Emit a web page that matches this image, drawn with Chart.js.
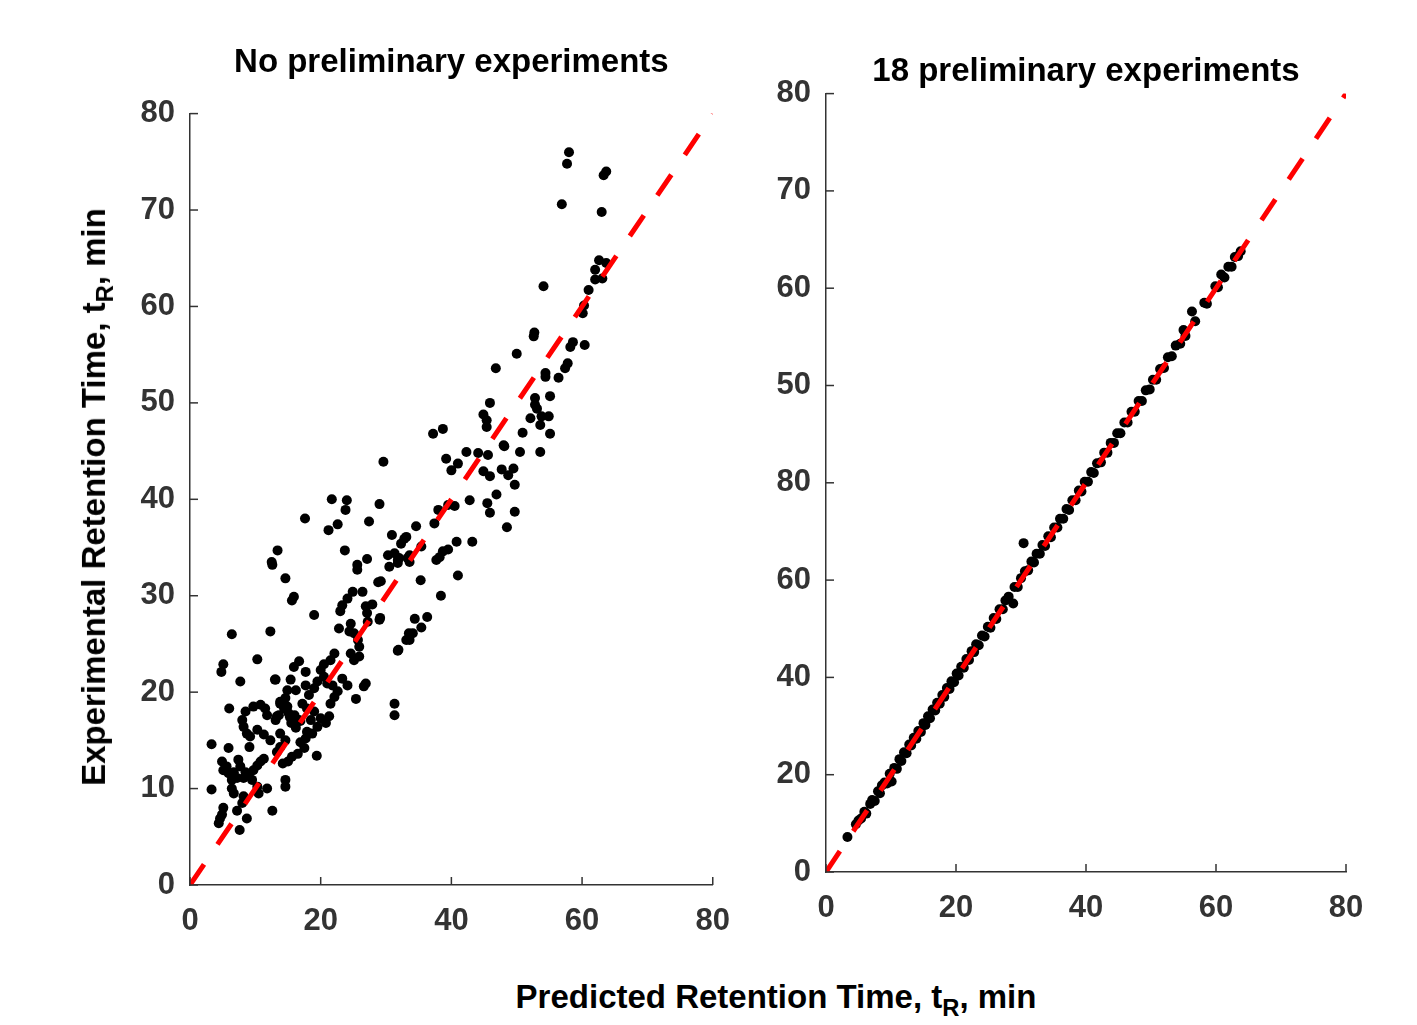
<!DOCTYPE html>
<html>
<head>
<meta charset="utf-8">
<script src="https://cdn.jsdelivr.net/npm/chart.js@4.4.1/dist/chart.umd.min.js"></script>
<style>
  body { margin: 0; background: #fff; width: 1417px; height: 1025px; position: relative; overflow: hidden;
         font-family: "Liberation Sans", Arial, sans-serif; }
  .panel { position: absolute; top: 0; height: 960px; }
  #leftBox { left: 0; width: 740px; }
  #rightBox { left: 760px; width: 657px; }
  .axisTitle { position: absolute; white-space: nowrap; font-weight: bold; font-size: 33px; color: #000; line-height: 1; }
  .axisTitle sub { font-size: 0.72em; vertical-align: -0.35em; }
  #yTitle { left: 97px; top: 497px; transform: translate(-50%, -50%) rotate(-90deg); }
  #xTitle { left: 776px; top: 1000px; transform: translate(-50%, -50%); }
</style>
</head>
<body>
<div class="panel" id="leftBox"><canvas id="leftChart"></canvas></div>
<div class="panel" id="rightBox"><canvas id="rightChart"></canvas></div>
<div class="axisTitle" id="yTitle">Experimental Retention Time, t<sub>R</sub>, min</div>
<div class="axisTitle" id="xTitle">Predicted Retention Time, t<sub>R</sub>, min</div>
<script>
// panel titles
const leftTitle = 'No preliminary experiments';
const rightTitle = '18 preliminary experiments';

// tick labels (right panel y labels are printed as in the original figure)
const xTickLabels = ['0', '20', '40', '60', '80'];
const leftYTickLabels = ['0', '10', '20', '30', '40', '50', '60', '70', '80'];
const rightYTickLabels = ['0', '20', '40', '60', '80', '50', '60', '70', '80'];

// ideal line (predicted = experimental)
const idealLine = [[0, 0], [80, 80]];

const leftPoints = [
  [3.3,14.6],[3.3,9.9],[4.4,6.4],[4.6,6.9],[4.9,7.3],[5.1,8.0],[7.6,5.7],[8.7,6.9],[7.2,7.7],[8.0,8.5],
  [8.2,9.2],[6.4,10.0],[6.7,9.5],[9.5,10.9],[10.3,10.2],[10.5,9.5],[11.8,10.0],[14.6,10.9],[14.6,10.2],[12.6,7.7],
  [4.9,12.8],[5.1,11.9],[5.6,12.3],[7.4,13.0],[7.7,12.3],[6.7,11.7],[5.9,11.6],[8.5,11.7],[9.0,11.4],[9.7,11.9],
  [10.3,12.4],[10.8,12.8],[11.3,13.1],[7.2,11.1],[8.2,11.1],[6.4,10.9],[5.9,14.2],[9.1,14.3],[6.0,18.3],[8.5,18.0],
  [9.7,18.5],[10.8,18.7],[11.5,18.3],[11.8,17.6],[8.0,17.1],[8.2,16.4],[8.7,15.7],[9.2,15.4],[13.8,18.8],[14.9,18.5],
  [13.6,17.6],[13.1,17.1],[10.3,16.1],[11.3,15.6],[12.3,15.0],[13.8,15.7],[14.6,15.0],[13.8,14.3],[13.3,13.8],[17.9,15.9],
  [17.7,15.2],[18.7,15.7],[19.5,16.4],[19.4,13.4],[16.9,14.8],[17.5,14.2],[16.5,13.6],[15.6,13.3],[15.0,12.8],[14.2,12.6],
  [15.5,16.8],[16.2,16.3],[16.9,17.0],[15.3,17.4],[16.0,17.6],[16.7,17.1],[13.3,17.5],[15.1,17.8],[17.7,20.7],[18.2,19.7],
  [17.2,18.8],[17.9,18.3],[19.0,18.0],[18.5,17.1],[20.0,17.3],[21.3,17.5],[20.8,16.8],[15.4,21.3],[14.9,20.2],[16.2,20.2],
  [14.6,19.4],[13.8,19.0],[14.4,18.3],[13.1,21.3],[20.0,22.3],[20.5,21.6],[19.5,21.1],[19.0,20.4],[21.0,20.9],[21.8,20.7],
  [23.3,21.4],[24.1,20.7],[22.6,20.1],[22.1,19.5],[21.5,18.8],[26.9,20.9],[26.6,20.6],[25.4,19.3],[31.3,18.8],[31.3,17.6],
  [16.7,23.2],[15.9,22.6],[17.7,22.1],[22.1,24.0],[21.5,23.3],[20.5,22.9],[24.6,24.0],[25.1,23.3],[25.9,23.7],[22.8,26.6],
  [24.6,27.1],[25.1,26.1],[25.7,25.4],[25.9,24.7],[27.2,27.3],[29.0,27.5],[33.1,25.4],[31.8,24.3],[12.3,26.3],[6.4,26.0],
  [5.1,22.9],[4.8,22.1],[10.3,23.4],[7.7,21.1],[13.0,21.3],[21.7,40.0],[24.0,39.9],[23.8,38.9],[29.0,39.5],[17.6,38.0],
  [22.6,37.4],[21.2,36.8],[27.4,37.7],[30.9,36.3],[32.8,35.9],[32.3,35.4],[13.4,34.7],[12.5,33.5],[12.6,33.2],[23.7,34.7],
  [30.3,34.2],[31.3,34.4],[31.8,33.7],[30.5,33.0],[33.3,33.9],[27.1,33.8],[25.6,33.2],[25.6,32.7],[14.6,31.8],[15.9,29.9],
  [15.6,29.5],[28.8,31.4],[24.9,30.4],[26.4,30.4],[24.1,29.7],[23.3,29.0],[23.0,28.4],[26.9,28.9],[27.9,29.1],[27.1,28.2],
  [29.1,27.7],[19.0,28.0],[24.4,26.3],[33.5,26.1],[45.9,50.0],[44.9,48.8],[45.4,48.2],[45.4,47.5],[52.8,49.8],[53.1,49.4],
  [52.1,48.4],[53.8,48.6],[54.9,48.6],[53.6,47.7],[50.9,46.9],[55.1,46.8],[37.2,46.8],[38.7,47.3],[48.1,45.5],[50.5,44.9],
  [53.6,44.9],[42.3,44.9],[44.1,44.8],[45.6,44.6],[39.2,44.2],[41.0,43.7],[40.0,43.0],[44.9,42.9],[45.9,42.4],[47.7,43.1],
  [48.7,42.5],[49.5,43.2],[49.7,41.5],[46.9,40.5],[45.5,39.6],[45.9,38.6],[42.8,39.9],[49.7,38.7],[48.5,37.1],[29.6,43.9],
  [38.0,38.9],[39.5,39.4],[40.5,39.3],[37.4,37.5],[34.6,37.2],[35.4,35.1],[40.8,35.6],[43.2,35.6],[38.7,34.6],[38.2,34.0],
  [37.7,33.7],[39.5,34.8],[35.3,31.6],[41.0,32.1],[38.4,30.0],[29.2,31.5],[34.4,27.6],[36.3,27.8],[35.4,26.7],[34.1,26.1],
  [33.6,25.4],[31.9,24.4],[33.1,36.1],[32.0,33.9],[33.6,34.2],[31.8,33.4],[33.6,33.5],[58.0,76.0],[57.7,74.8],[63.7,74.0],
  [63.3,73.6],[56.9,70.6],[63.0,69.8],[62.6,64.8],[63.7,64.5],[62.0,63.8],[63.1,62.9],[62.0,62.8],[61.0,61.7],[54.1,62.1],
  [60.3,60.1],[60.1,59.3],[52.7,57.3],[52.6,56.9],[58.6,56.3],[58.2,55.8],[60.4,56.0],[50.0,55.1],[46.8,53.6],[57.8,54.1],
  [57.4,53.6],[54.4,53.1],[54.4,52.7],[56.4,52.6],[52.8,50.5],[55.1,50.7],[48.0,45.6]
];

const rightPoints = [
  [3.3,3.6],[4.6,4.9],[5.0,5.3],[5.4,5.5],[5.9,6.2],[6.2,6.0],[6.8,7.0],[7.1,7.4],[7.5,7.3],[8.0,8.3],
  [8.3,8.1],[8.6,8.9],[9.0,9.2],[9.4,9.1],[9.8,10.1],[10.1,9.3],[10.5,10.7],[10.9,10.6],[11.3,11.6],[11.6,11.4],
  [12.0,12.3],[12.4,12.2],[12.8,13.1],[13.1,13.0],[13.5,13.8],[13.9,13.7],[14.2,14.5],[14.6,14.4],[15.0,15.3],[15.3,15.1],
  [15.7,16.0],[16.0,15.8],[16.4,16.7],[16.8,16.6],[17.1,17.4],[17.5,17.3],[17.9,18.2],[18.2,18.0],[18.6,18.9],[19.0,18.8],
  [19.3,19.6],[19.7,19.5],[20.1,20.4],[20.4,20.2],[20.8,21.1],[21.2,21.0],[21.6,21.9],[22.0,21.8],[22.4,22.7],[22.8,22.6],
  [23.1,23.4],[23.5,23.3],[24.0,24.3],[24.4,24.2],[24.9,25.2],[25.3,25.1],[25.8,26.1],[26.2,26.0],[26.7,27.0],[27.2,27.0],
  [27.6,27.9],[28.1,28.3],[28.8,27.6],[29.0,29.3],[29.5,29.3],[30.0,30.2],[30.4,33.8],[30.6,30.9],[31.1,31.0],[31.6,31.9],
  [32.0,31.8],[32.4,32.7],[32.9,32.7],[33.3,33.6],[33.7,33.5],[34.2,34.5],[34.6,34.4],[35.1,35.4],[35.6,35.4],[36.0,36.3],
  [36.5,36.3],[37.0,37.3],[37.4,37.2],[37.9,38.2],[38.4,38.2],[38.9,39.2],[39.3,39.1],[39.8,40.1],[40.3,40.1],[40.8,41.1],
  [41.2,41.0],[41.7,42.0],[42.3,42.1],[42.8,43.1],[43.3,43.1],[43.8,44.1],[44.3,44.1],[44.8,45.1],[45.3,45.1],[45.9,46.2],
  [46.4,46.2],[47.0,47.3],[47.5,47.3],[48.1,48.4],[48.6,48.4],[49.2,49.5],[49.8,49.6],[50.3,50.6],[50.8,50.6],[51.4,51.7],
  [52.0,51.8],[52.6,52.9],[53.2,53.0],[53.8,54.1],[54.5,54.3],[55.0,55.7],[55.3,55.1],[56.3,57.6],[56.8,56.6],[58.2,58.5],
  [58.6,58.4],[59.9,60.2],[60.3,60.1],[60.8,61.4],[61.3,61.1],[61.9,62.2],[62.4,62.2],[62.9,63.2],[63.4,63.3],[63.8,63.8]
];

const fontFamily = '"Liberation Sans", Arial, sans-serif';
const axisColor = '#333333';

const toXY = pts => pts.map(p => ({ x: p[0], y: p[1] }));

// small tick marks pointing into the plot, like the original
const innerTicks = {
  id: 'innerTicks',
  afterDatasetsDraw(chart) {
    const { ctx, chartArea, scales } = chart;
    ctx.save();
    ctx.strokeStyle = axisColor;
    ctx.lineWidth = 1.5;
    scales.x.ticks.forEach(t => {
      const px = scales.x.getPixelForValue(t.value);
      ctx.beginPath();
      ctx.moveTo(px, chartArea.bottom);
      ctx.lineTo(px, chartArea.bottom - 8);
      ctx.stroke();
    });
    scales.y.ticks.forEach(t => {
      const py = scales.y.getPixelForValue(t.value);
      ctx.beginPath();
      ctx.moveTo(chartArea.left, py);
      ctx.lineTo(chartArea.left + 8, py);
      ctx.stroke();
    });
    ctx.restore();
  }
};

function makePanel(id, points, title, yLabels, opts) {
  const ctx = document.getElementById(id).getContext('2d');
  return new Chart(ctx, {
    type: 'scatter',
    data: {
      datasets: [
        {
          type: 'line',
          data: toXY(idealLine),
          borderColor: '#ff0000',
          borderWidth: 5,
          borderDash: [25, 24],
          pointRadius: 0,
          fill: false,
          order: 0
        },
        {
          data: toXY(points),
          backgroundColor: '#000000',
          borderWidth: 0,
          pointRadius: 5,
          order: 1
        }
      ]
    },
    options: {
      responsive: true,
      maintainAspectRatio: false,
      animation: false,
      layout: { padding: opts.padding },
      plugins: {
        legend: { display: false },
        tooltip: { enabled: false },
        title: {
          display: true,
          text: title,
          fullSize: false,
          color: '#000',
          font: { family: fontFamily, size: 33, weight: 'bold' },
          padding: opts.titlePadding
        }
      },
      scales: {
        x: {
          type: 'linear',
          min: 0,
          max: 80,
          grid: { display: false },
          border: { display: true, color: axisColor, width: 1.5 },
          afterFit: s => { s.height = 75; },
          ticks: {
            stepSize: 20,
            autoSkip: false,
            maxRotation: 0,
            padding: 10,
            color: axisColor,
            font: { family: fontFamily, size: 31, weight: 'bold' },
            callback: (v, i) => xTickLabels[i]
          }
        },
        y: {
          type: 'linear',
          min: 0,
          max: 80,
          grid: { display: false },
          border: { display: true, color: axisColor, width: 1.5 },
          afterFit: s => { s.width = opts.yWidth; },
          ticks: {
            stepSize: 10,
            autoSkip: false,
            padding: 7,
            color: axisColor,
            font: { family: fontFamily, size: 31, weight: 'bold' },
            callback: (v, i) => yLabels[i]
          }
        }
      }
    },
    plugins: [innerTicks]
  });
}

makePanel('leftChart', leftPoints, leftTitle, leftYTickLabels, {
  padding: { left: 120, right: 26, top: 10, bottom: 0 },
  titlePadding: { top: 33, bottom: 31 },
  yWidth: 70
});

makePanel('rightChart', rightPoints, rightTitle, rightYTickLabels, {
  padding: { left: 6, right: 71, top: 0, bottom: 13 },
  titlePadding: { top: 52, bottom: 2 },
  yWidth: 60
});
</script>
</body>
</html>
